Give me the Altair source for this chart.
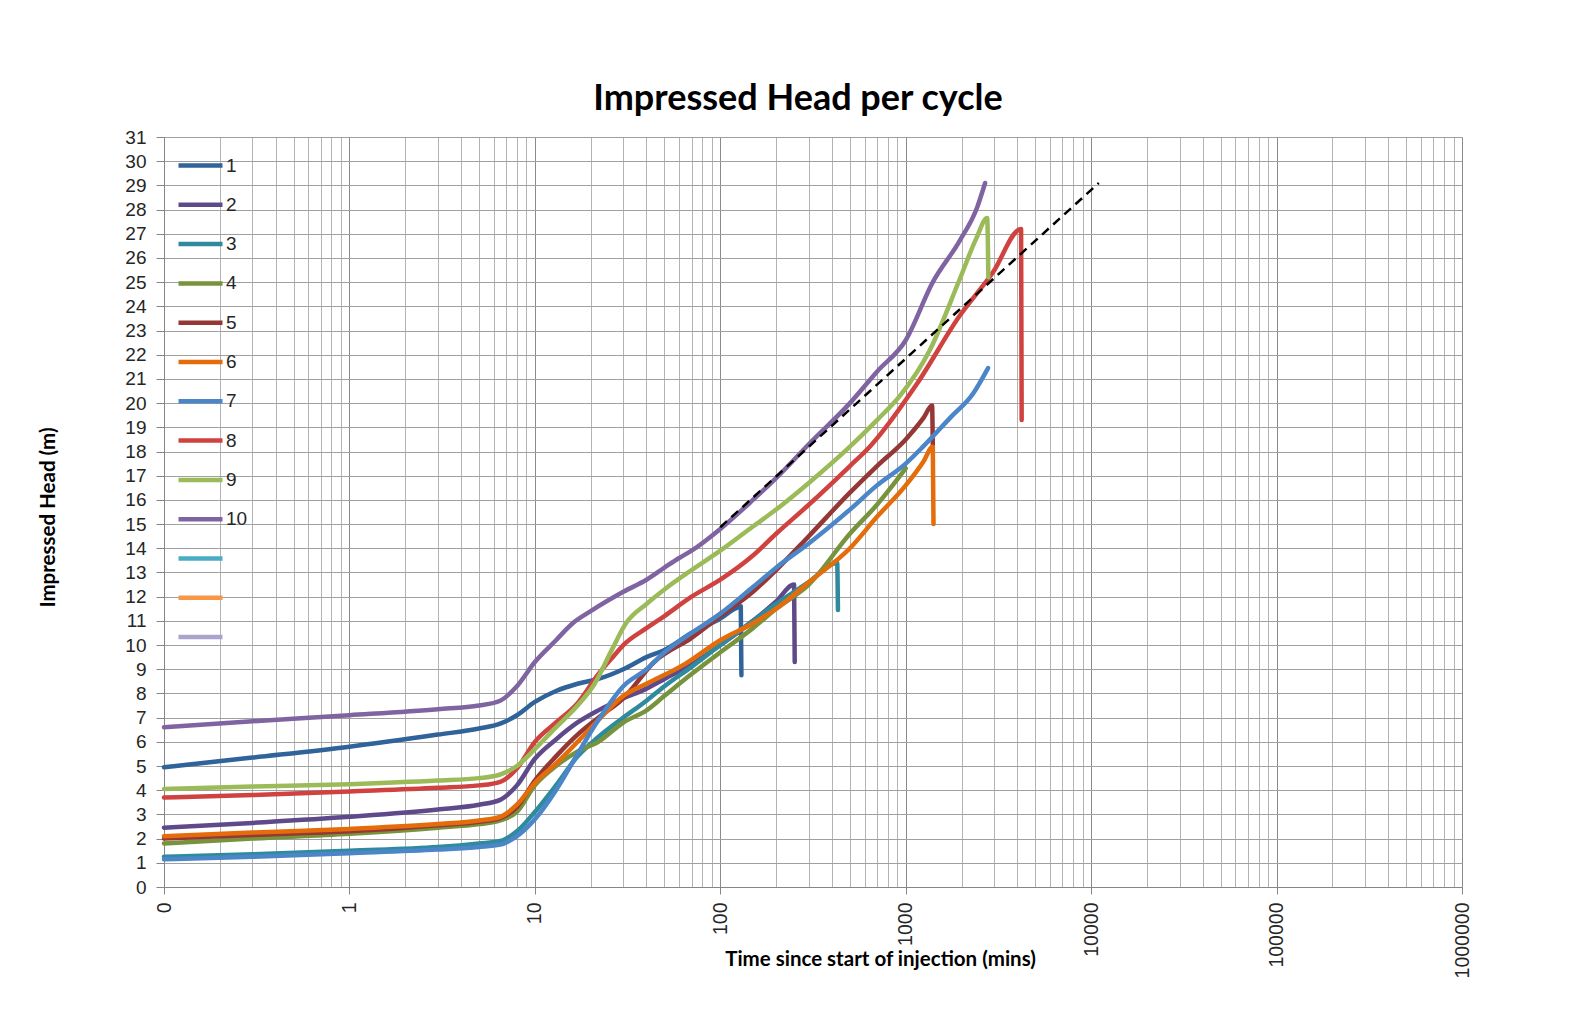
import altair as alt
import pandas as pd

SERIES = [str(i) for i in range(1, 14)]
COLORS = ["#30639A", "#5E4A8A", "#2F8A9E", "#77933C", "#953735", "#E46C0A",
          "#4A86C8", "#D0423F", "#9BBB59", "#8064A2", "#4BACC6", "#F79646", "#A9A3CE"]

t1 = [0.1, 0.3, 1, 3, 5, 6.5, 8, 10, 13, 17, 22, 30, 40, 50, 70, 100, 120, 129, 130]
h1 = [4.95, 5.35, 5.8, 6.3, 6.55, 6.75, 7.1, 7.65, 8.1, 8.4, 8.6, 9.0, 9.5, 9.8, 10.5, 11.1, 11.5, 11.6, 8.75]

t2 = [0.1, 0.3, 1, 3, 5, 6.5, 8, 10, 13, 17, 22, 30, 40, 50, 70, 100, 150, 200, 250, 252]
h2 = [2.45, 2.65, 2.9, 3.2, 3.4, 3.6, 4.2, 5.3, 6.1, 6.8, 7.3, 7.8, 8.2, 8.6, 9.2, 10.0, 11.0, 11.8, 12.5, 9.3]

t3 = [0.1, 0.3, 1, 3, 5, 6.5, 8, 10, 13, 17, 22, 30, 40, 50, 70, 100, 150, 200, 300, 427, 431]
h3 = [1.25, 1.35, 1.5, 1.65, 1.8, 1.9, 2.3, 3.1, 4.2, 5.4, 6.2, 7.0, 7.7, 8.3, 9.1, 10.0, 11.0, 11.7, 12.6, 13.4, 11.45]

t4 = [0.1, 0.3, 1, 3, 5, 6.5, 8, 10, 13, 17, 22, 30, 40, 50, 70, 100, 150, 200, 300, 500, 700, 1000]
h4 = [1.8, 2.0, 2.2, 2.45, 2.6, 2.75, 3.1, 4.2, 5.0, 5.6, 6.0, 6.8, 7.3, 7.9, 8.8, 9.7, 10.7, 11.5, 12.5, 14.6, 15.8, 17.3]

t5 = [0.1, 0.3, 1, 3, 5, 6.5, 8, 10, 13, 17, 22, 30, 44, 70, 100, 150, 200, 300, 500, 700, 1000, 1250, 1387, 1400]
h5 = [2.0, 2.15, 2.3, 2.55, 2.7, 2.85, 3.3, 4.4, 5.4, 6.3, 7.0, 7.8, 9.3, 10.3, 11.2, 12.2, 13.1, 14.5, 16.3, 17.4, 18.5, 19.4, 19.9, 18.2]

t6 = [0.1, 0.3, 1, 3, 5, 6.5, 8, 10, 13, 17, 22, 30, 40, 64, 100, 150, 200, 300, 500, 700, 1000, 1250, 1400, 1412]
h6 = [2.1, 2.25, 2.4, 2.6, 2.75, 2.9, 3.4, 4.3, 5.1, 6.0, 6.9, 7.9, 8.4, 9.2, 10.2, 10.9, 11.5, 12.6, 14.0, 15.3, 16.6, 17.6, 18.2, 15.0]

t7 = [0.1, 0.3, 1, 3, 5, 6.5, 8, 10, 13, 17, 22, 30, 40, 50, 70, 100, 150, 200, 300, 500, 700, 1000, 1240, 1740, 2310, 2780]
h7 = [1.15, 1.25, 1.4, 1.55, 1.65, 1.75, 2.1, 2.8, 4.0, 5.5, 6.9, 8.3, 9.0, 9.7, 10.5, 11.3, 12.4, 13.2, 14.2, 15.6, 16.6, 17.5, 18.2, 19.4, 20.4, 21.45]

t8 = [0.1, 0.3, 1, 3, 5, 6.5, 8, 10, 13, 17, 22, 27, 30, 40, 50, 70, 100, 150, 200, 300, 500, 640, 1150, 1950, 2950, 4190, 4220]
h8 = [3.7, 3.8, 3.95, 4.1, 4.2, 4.35, 4.9, 6.0, 6.8, 7.6, 8.8, 9.6, 10.0, 10.7, 11.2, 12.0, 12.7, 13.7, 14.6, 15.8, 17.4, 18.2, 20.8, 23.6, 25.4, 27.2, 19.3]

t9 = [0.1, 0.3, 1, 3, 5, 6.5, 8, 10, 13, 17, 21, 26, 31, 40, 50, 70, 100, 150, 200, 300, 500, 700, 930, 1350, 1950, 2400, 2750, 2790]
h9 = [4.05, 4.15, 4.25, 4.4, 4.5, 4.65, 5.0, 5.7, 6.6, 7.5, 8.4, 9.8, 10.9, 11.7, 12.3, 13.1, 13.9, 14.9, 15.6, 16.7, 18.2, 19.3, 20.3, 22.2, 25.1, 26.8, 27.65, 25.2]

t10 = [0.1, 0.3, 1, 3, 5, 6.5, 8, 10, 13, 16, 20, 30, 40, 50, 60, 70, 100, 150, 200, 300, 500, 700, 1000, 1400, 1950, 2430, 2680]
h10 = [6.6, 6.85, 7.1, 7.35, 7.5, 7.7, 8.3, 9.3, 10.2, 10.9, 11.4, 12.2, 12.7, 13.2, 13.6, 13.9, 14.8, 16.0, 16.9, 18.3, 20.0, 21.3, 22.6, 25.0, 26.7, 28.1, 29.1]

trend_t = [100, 11000]
trend_h = [14.87, 29.1]

series_t = [t1, t2, t3, t4, t5, t6, t7, t8, t9, t10]
series_h = [h1, h2, h3, h4, h5, h6, h7, h8, h9, h10]

rows = []
for k, (ts, hs) in enumerate(zip(series_t, series_h)):
    for i, (t, h) in enumerate(zip(ts, hs)):
        rows.append({"series": SERIES[k], "t": t, "h": h, "i": i})
df = pd.DataFrame(rows)
trend = pd.DataFrame({"t": trend_t, "h": trend_h})

DEC = "abs(log(datum.value)/LN10 - round(log(datum.value)/LN10)) < 0.000001"
x_vals = [m / 10 for m in range(1, 10)] + [m * 10 ** e for e in range(0, 6) for m in range(1, 10)] + [1000000]

x_scale = alt.Scale(type="log", domain=[0.1, 1000000], nice=False)
y_scale = alt.Scale(domain=[0, 31], nice=False, zero=False)

x_axis = alt.Axis(
    values=x_vals,
    labelExpr=f"datum.value < 0.15 ? '0' : (({DEC}) ? format(datum.value, 'd') : '')",
    labelAngle=270, labelFont="Liberation Sans", labelFontSize=19.5, labelColor="#262626",
    labelPadding=8, labelOverlap=False, labelFlush=False,
    tickSize=7, tickColor="#868686",
    tickOpacity={"condition": {"test": DEC, "value": 1}, "value": 0},
    gridColor={"condition": {"test": DEC, "value": "#8a8a8a"}, "value": "#b4b4b4"},
    gridWidth=1, domainColor="#868686",
    title="Time since start of injection (mins)", titleFont="Lato", titleFontWeight="bold",
    titleFontSize=20.5, titleColor="#000000", titleX=716, titleY=72,
    titleBaseline="middle", titleAlign="center",
)
y_axis = alt.Axis(
    values=list(range(32)), labelFont="Liberation Sans", labelFontSize=19, labelColor="#262626",
    labelOverlap=False, tickSize=8, tickColor="#868686", labelPadding=10,
    gridColor="#a0a0a0", domainColor="#868686",
    title="Impressed Head (m)", titleFont="Lato", titleFontWeight="bold", titleFontSize=20.5,
    titleColor="#000000", titleX=-116, titleY=380, titleAngle=270,
    titleBaseline="middle", titleAlign="center",
)

legend = alt.Legend(
    orient="none", legendX=23, legendY=15, direction="vertical", title=None,
    values=SERIES, symbolType="M-2,0L2,0", symbolSize=484, symbolStrokeWidth=4.5,
    labelFont="Liberation Sans", labelFontSize=19, labelColor="#262626",
    labelOffset=12, rowPadding=15.3, padding=0,
    labelExpr="toNumber(datum.value) > 10 ? '' : datum.label",
)

lines = alt.Chart(df).mark_line(strokeWidth=4.5, strokeJoin="round", strokeCap="round",
                                interpolate="monotone").encode(
    x=alt.X("t:Q", scale=x_scale, axis=x_axis),
    y=alt.Y("h:Q", scale=y_scale, axis=y_axis),
    color=alt.Color("series:N", scale=alt.Scale(domain=SERIES, range=COLORS), legend=legend),
    order=alt.Order("i:Q"),
)

trend_line = alt.Chart(trend).mark_line(color="black", strokeWidth=2.5, strokeDash=[9, 6]).encode(
    x=alt.X("t:Q", scale=x_scale, axis=x_axis),
    y=alt.Y("h:Q", scale=y_scale, axis=y_axis),
)

chart = alt.layer(lines, trend_line).properties(
    width=1298, height=750,
    title=alt.TitleParams("Impressed Head per cycle", font="Lato", fontSize=36, fontWeight="bold",
                          color="#000000", anchor="middle", frame="group", dx=-15, offset=28,
                          dy=46, baseline="alphabetic"),
    autosize=alt.AutoSizeParams(type="none"),
    padding={"left": 156, "top": 129, "right": 100, "bottom": 130},
).configure_view(stroke="transparent").configure_axisY(labelOverlap=False).configure(background="white")

chart.save("out.html", embed_options={"renderer": "svg", "actions": False})
